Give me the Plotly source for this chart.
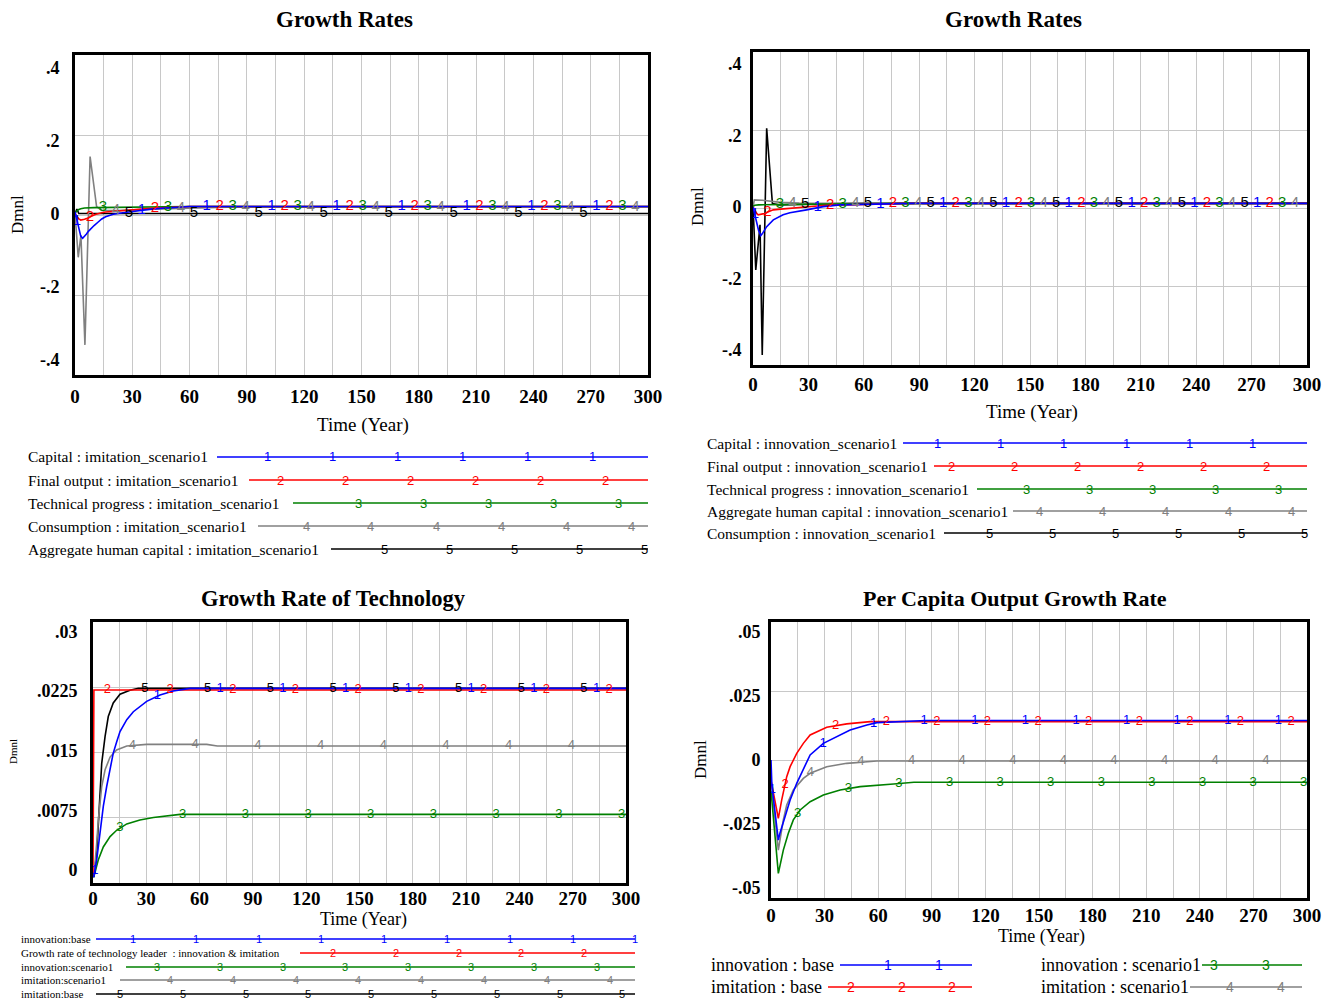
import numpy as np
import plotly.graph_objects as go

W, H = 1331, 1002
SERIF = "Liberation Serif, Times New Roman, serif"
SANS = "Liberation Sans, Arial, sans-serif"
BLUE, RED, GREEN, GRAY, BLACK = "#0000ff", "#ff0000", "#008000", "#808080", "#000000"
GRID = "#c8c8c8"

# ---------------- Panel 1: Growth Rates (imitation_scenario1) ----------------
p1_names = ["Capital : imitation_scenario1", "Final output : imitation_scenario1",
            "Technical progress : imitation_scenario1", "Consumption : imitation_scenario1",
            "Aggregate human capital : imitation_scenario1"]
p1_capital_t = [0, 1, 2, 3, 4, 5, 6, 7, 8, 9, 10, 12, 14, 16, 18, 20, 25, 30, 35, 40, 45, 50, 60, 300]
p1_capital_v = [0.005, -0.02, -0.045, -0.062, -0.068, -0.063, -0.056, -0.049, -0.043, -0.038, -0.033,
                -0.024, -0.015, -0.009, -0.005, -0.002, 0.002, 0.006, 0.009, 0.012, 0.014, 0.016, 0.019, 0.019]
p1_output_t = [0, 1, 2, 3, 4, 5, 6, 7, 8, 9, 10, 11, 12, 14, 16, 18, 20, 25, 30, 35, 40, 45, 50, 60, 300]
p1_output_v = [0, -0.008, -0.015, -0.018, -0.018, -0.016, -0.014, -0.011, -0.009, -0.006, -0.004, -0.002,
               0.0, 0.002, 0.004, 0.005, 0.006, 0.008, 0.010, 0.012, 0.014, 0.015, 0.016, 0.019, 0.019]
p1_tech_t = [0, 1, 2, 3, 5, 10, 20, 30, 40, 60, 300]
p1_tech_v = [0.002, 0.008, 0.011, 0.013, 0.015, 0.016, 0.017, 0.018, 0.018, 0.019, 0.019]
p1_cons_t = [0, 0.8, 1.7, 3.1, 5.2, 7.9, 11.3, 14, 22, 40, 56, 80, 300]
p1_cons_v = [0, -0.06, -0.12, -0.059, -0.36, 0.156, 0.019, 0.008, 0.008, 0.012, 0.014, 0.017, 0.018]
p1_hcap_t = [0, 1, 2, 300]
p1_hcap_v = [0, 0.012, 0, 0]

# ---------------- Panel 2: Growth Rates (innovation_scenario1) ----------------
p2_names = ["Capital : innovation_scenario1", "Final output : innovation_scenario1",
            "Technical progress : innovation_scenario1", "Aggregate human capital : innovation_scenario1",
            "Consumption : innovation_scenario1"]
p2_capital_t = [0, 1, 2, 3, 4.2, 5, 7.4, 11, 16.3, 20, 29, 38, 47, 60, 85, 300]
p2_capital_v = [0, -0.02, -0.045, -0.065, -0.08, -0.075, -0.055, -0.036, -0.022, -0.016, -0.008,
                0.001, 0.006, 0.008, 0.01, 0.01]
p2_output_t = [0, 1, 2, 2.8, 4, 6.5, 8, 11, 15, 20.3, 29, 38, 50, 65, 83, 300]
p2_output_v = [0, -0.01, -0.018, -0.022, -0.021, -0.018, -0.014, -0.008, -0.006, -0.004, -0.001,
               0.004, 0.006, 0.008, 0.01, 0.01]
p2_tech_t = [0, 1, 3, 10, 20, 40, 60, 90, 300]
p2_tech_v = [0.002, 0.005, 0.006, 0.006, 0.007, 0.008, 0.009, 0.01, 0.01]
p2_hcap_t = [0, 0.7, 5, 10, 15, 25, 40, 60, 300]
p2_hcap_v = [0, 0.02, 0.019, 0.016, 0.013, 0.011, 0.01, 0.01, 0.01]
p2_cons_t = [0, 1.5, 3.8, 5, 7.4, 10.5, 14, 20, 30, 60, 300]
p2_cons_v = [0.005, -0.176, -0.05, -0.414, 0.22, 0.01, 0.006, 0.007, 0.008, 0.01, 0.01]

# ---------------- Panel 3: Growth Rate of Technology ----------------
p3_names = ["innovation:base", "Growth rate of technology leader  : innovation & imitation",
            "innovation:scenario1", "imitation:scenario1", "imitation:base"]
p3_innov_base_t = [0, 0.5, 2.1, 3.9, 5.8, 7.7, 9.6, 11.4, 13.3, 15.2, 19, 22.7, 30.2, 37.7, 45.2, 54.6, 300]
p3_innov_base_v = [-0.0008, -0.0008, 0.0013, 0.0046, 0.008, 0.0105, 0.0126, 0.0147, 0.0161, 0.0174,
                   0.0189, 0.0199, 0.0212, 0.022, 0.0225, 0.02284, 0.02284]
p3_leader_t = [0, 0.5, 300]
p3_leader_v = [-0.0008, 0.02263, 0.02263]
p3_innov_sc1_t = [0, 0.5, 3, 5.8, 9.6, 13.3, 19, 26.4, 34, 45, 49, 300]
p3_innov_sc1_v = [-0.0008, -0.0008, 0.0013, 0.0029, 0.0042, 0.005, 0.0058, 0.0063, 0.0066, 0.0069, 0.007, 0.007]
p3_imit_sc1_t = [0, 0.5, 2.1, 3, 4.9, 6.8, 9.6, 13.3, 19, 30.2, 64, 70, 300]
p3_imit_sc1_v = [-0.0008, -0.0008, 0.0034, 0.0063, 0.0105, 0.0126, 0.0142, 0.0151, 0.0156, 0.0158,
                 0.0158, 0.0156, 0.0156]
p3_imit_base_t = [0, 0.5, 2.1, 3, 3.9, 4.9, 6.8, 8.6, 11.4, 15.2, 20.8, 25.5, 300]
p3_imit_base_v = [-0.0008, -0.0008, 0.0021, 0.0063, 0.0105, 0.0134, 0.0168, 0.0193, 0.021, 0.0221,
                  0.0226, 0.02284, 0.02284]

# ---------------- Panel 4: Per Capita Output Growth Rate ----------------
p4_names = ["innovation : base", "imitation : base", "innovation : scenario1", "imitation : scenario1"]
p4_innov_base_t = [0, 0.5, 4.1, 5, 7.9, 10.7, 14.4, 18.1, 21.9, 29.3, 36.8, 44.3, 53.7, 59.3, 87, 300]
p4_innov_base_v = [0, -0.01, -0.0313, -0.0286, -0.0221, -0.0156, -0.0091, -0.0039, 0.002, 0.0065,
                   0.0091, 0.0117, 0.0137, 0.0146, 0.0154, 0.0154]
p4_imit_base_t = [0, 4.1, 6, 8.8, 10.7, 14.4, 18.1, 21.9, 31.2, 42.4, 55.5, 300]
p4_imit_base_v = [-0.008, -0.0228, -0.0156, -0.0065, -0.0026, 0.0026, 0.0065, 0.0098, 0.0128, 0.0141,
                  0.015, 0.015]
p4_innov_sc1_t = [0, 4.1, 6.9, 9.7, 12.5, 16.3, 21.9, 29.3, 38.7, 49.9, 68.6, 80, 300]
p4_innov_sc1_v = [-0.012, -0.0443, -0.0352, -0.0286, -0.0234, -0.0195, -0.0163, -0.0137, -0.0117,
                  -0.0104, -0.0094, -0.0087, -0.0087]
p4_imit_sc1_t = [0, 4.1, 6.9, 8.8, 12.5, 18.1, 21.9, 31.2, 42.4, 59.3, 300]
p4_imit_sc1_v = [-0.008, -0.0352, -0.0234, -0.0176, -0.0117, -0.0072, -0.0052, -0.0026, -0.0013,
                 -0.0004, -0.0004]

x_ticks = [0, 30, 60, 90, 120, 150, 180, 210, 240, 270, 300]
p12_yticks = [0.4, 0.2, 0, -0.2, -0.4]
p12_yticktext = [".4", ".2", "0", "-.2", "-.4"]
p3_yticks = [0.03, 0.0225, 0.015, 0.0075, 0]
p3_yticktext = [".03", ".0225", ".015", ".0075", "0"]
p4_yticks = [0.05, 0.025, 0, -0.025, -0.05]
p4_yticktext = [".05", ".025", "0", "-.025", "-.05"]

fig = go.Figure()
annotations = []
shapes = []


def px(x):
    return x / W


def py(y):
    return 1 - y / H


def add_panel(k, series, colors, lab_start, lab_step, lab_size):
    xa = "x" if k == 1 else f"x{k}"
    ya = "y" if k == 1 else f"y{k}"
    n = len(series)
    for i in reversed(range(n)):
        t, v = series[i]
        fig.add_trace(go.Scatter(x=t, y=v, mode="lines", line=dict(color=colors[i], width=1.6),
                                 xaxis=xa, yaxis=ya, showlegend=False, hoverinfo="skip"))
    for i in range(n):
        t, v = series[i]
        lt = [lab_start + lab_step * j for j in range(300)
              if j % n == i and lab_start + lab_step * j <= 300.5]
        lv = np.interp(lt, t, v)
        fig.add_trace(go.Scatter(x=lt, y=lv, mode="text", text=[str(i + 1)] * len(lt),
                                 textfont=dict(family=SANS, size=lab_size, color=colors[i]),
                                 textposition="middle center", cliponaxis=False,
                                 xaxis=xa, yaxis=ya, showlegend=False, hoverinfo="skip"))


C5 = [BLUE, RED, GREEN, GRAY, BLACK]
add_panel(1, [(p1_capital_t, p1_capital_v), (p1_output_t, p1_output_v), (p1_tech_t, p1_tech_v),
              (p1_cons_t, p1_cons_v), (p1_hcap_t, p1_hcap_v)], C5, 1.0, 6.8, 15)
add_panel(2, [(p2_capital_t, p2_capital_v), (p2_output_t, p2_output_v), (p2_tech_t, p2_tech_v),
              (p2_hcap_t, p2_hcap_v), (p2_cons_t, p2_cons_v)], C5, 1.0, 6.8, 15)
add_panel(3, [(p3_innov_base_t, p3_innov_base_v), (p3_leader_t, p3_leader_v),
              (p3_innov_sc1_t, p3_innov_sc1_v), (p3_imit_sc1_t, p3_imit_sc1_v),
              (p3_imit_base_t, p3_imit_base_v)], C5, 1.0, 7.06, 13)
add_panel(4, [(p4_innov_base_t, p4_innov_base_v), (p4_imit_base_t, p4_imit_base_v),
              (p4_innov_sc1_t, p4_innov_sc1_v), (p4_imit_sc1_t, p4_imit_sc1_v)],
          [BLUE, RED, GREEN, GRAY], 0.8, 7.08, 13)


def xaxis(dom, anchor, standoff):
    return dict(domain=dom, anchor=anchor, range=[0, 300], tickmode="array", tickvals=x_ticks,
                ticks="", ticklabelstandoff=standoff, automargin=False,
                tickfont=dict(family=SERIF, size=19, color="black", weight="bold"),
                showgrid=True, gridcolor=GRID, gridwidth=1,
                minor=dict(tickmode="linear", tick0=0, dtick=15, showgrid=True, gridcolor=GRID, ticks=""),
                showline=True, linecolor="black", linewidth=3, mirror=True, zeroline=False, fixedrange=True)


def yaxis(dom, anchor, rng, tv, tt, standoff):
    lo, hi = rng
    grid = [lo + (hi - lo) * q / 4 for q in (1, 2, 3)]
    return dict(domain=dom, anchor=anchor, range=rng, tickmode="array", tickvals=tv, ticktext=tt,
                ticks="", ticklabelstandoff=standoff, automargin=False,
                tickfont=dict(family=SERIF, size=18, color="black", weight="bold"),
                showgrid=False,
                minor=dict(tickmode="array", tickvals=grid, showgrid=True, gridcolor=GRID, ticks=""),
                showline=True, linecolor="black", linewidth=3, mirror=True, zeroline=False, fixedrange=True)


layout = dict(
    width=W, height=H, autosize=False, margin=dict(l=0, r=0, t=0, b=0, pad=0, autoexpand=False),
    paper_bgcolor="white", plot_bgcolor="white", showlegend=False,
    xaxis=xaxis([px(75), px(648)], "y", 2),
    yaxis=yaxis([py(375), py(55)], "x", [-0.4425, 0.4342], p12_yticks, p12_yticktext, 9),
    xaxis2=xaxis([px(753), px(1307)], "y2", 0),
    yaxis2=yaxis([py(365), py(52)], "x2", [-0.4420, 0.4336], p12_yticks, p12_yticktext, 5),
    xaxis3=xaxis([px(93), px(626)], "y3", -4),
    yaxis3=yaxis([py(883), py(622)], "x3", [-0.00163, 0.03118], p3_yticks, p3_yticktext, 9),
    xaxis4=xaxis([px(771), px(1307)], "y4", -2),
    yaxis4=yaxis([py(898), py(622)], "x4", [-0.0539, 0.0539], p4_yticks, p4_yticktext, 4),
)


def ann(text, x, y, size, family=SERIF, color="black", bold=False, xanchor="center", angle=0):
    f = dict(family=family, size=size, color=color)
    if bold:
        f["weight"] = "bold"
    annotations.append(dict(text=text, x=px(x), y=py(y), xref="paper", yref="paper",
                            xanchor=xanchor, yanchor="middle", showarrow=False, font=f,
                            textangle=angle, borderpad=0))


# titles
ann("Growth Rates", 344, 20, 23, bold=True)
ann("Growth Rates", 1013, 20, 23, bold=True)
ann("Growth Rate of Technology", 334, 598, 22.5, bold=True)
ann("Per Capita Output Growth Rate", 1015, 598, 22, bold=True)
# axis titles
ann("Time (Year)", 363, 425, 19)
ann("Time (Year)", 1032, 412, 19)
ann("Time (Year)", 363, 919, 18)
ann("Time (Year)", 1041, 936, 18)
ann("Dmnl", 17, 215, 17, angle=-90)
ann("Dmnl", 697, 207, 17, angle=-90)
ann("Dmnl", 13, 752, 11, angle=-90)
ann("Dmnl", 700, 760, 17, angle=-90)


def legend_row(text, tx, ty, x0, x1, color, num, m0, mstep, tsize, nsize):
    ann(text, tx, ty, tsize, xanchor="left")
    shapes.append(dict(type="line", xref="paper", yref="paper", x0=px(x0), x1=px(x1),
                       y0=py(ty), y1=py(ty), line=dict(color=color, width=1.6)))
    m = m0
    while m <= x1 + 2:
        ann(num, m, ty, nsize, family=SANS, color=color)
        m += mstep


# panel 1 legend
p1_rows = [(457, 217, 267), (480, 249, 280), (503, 293, 358), (526, 258, 306), (549, 331, 384)]
for i, (ty, x0, m0) in enumerate(p1_rows):
    legend_row(p1_names[i], 27, ty, x0, 648, C5[i], str(i + 1), m0, 65, 15.5, 13)
# panel 2 legend
p2_rows = [(443, 903, 937), (466, 934, 951), (489, 977, 1026), (511, 1013, 1039), (533, 944, 989)]
for i, (ty, x0, m0) in enumerate(p2_rows):
    legend_row(p2_names[i], 706, ty, x0, 1307, C5[i], str(i + 1), m0, 63, 15.5, 13)
# panel 3 legend
p3_rows = [(939, 96, 133), (953, 300, 333), (967, 126, 157), (980, 120, 170), (994, 96, 120)]
for i, (ty, x0, m0) in enumerate(p3_rows):
    legend_row(p3_names[i], 20, ty, x0, 635, C5[i], str(i + 1), m0, 62.8, 11, 11)
# panel 4 legend
C4 = [BLUE, RED, GREEN, GRAY]
p4_rows = [(710, 965, 840, 972, 888, 50.5), (710, 987, 828, 972, 851, 50.5),
           (1040, 965, 1202, 1302, 1214, 52), (1040, 987, 1190, 1302, 1230, 51)]
for i, (tx, ty, x0, x1, m0, st) in enumerate(p4_rows):
    legend_row(p4_names[i], tx, ty, x0, x1, C4[i], str(i + 1), m0, st, 18, 14)

layout["annotations"] = annotations
layout["shapes"] = shapes
fig.update_layout(**layout)
fig.write_html("out.html")
